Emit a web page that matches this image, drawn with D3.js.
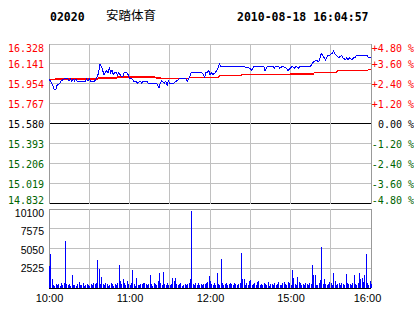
<!DOCTYPE html>
<html>
<head>
<meta charset="utf-8">
<script src="https://cdn.jsdelivr.net/npm/d3@7"></script>
<style>
  body { margin: 0; background: #fff; }
  svg { display: block; }
</style>
</head>
<body>
<script>
  // Stock info
  const code = '02020';
  const stockName = '安踏体育';
  const stamp = '2010-08-18 16:04:57';

  // tick labels
  const priceTicks = [16.328, 16.141, 15.954, 15.767, 15.580, 15.393, 15.206, 15.019, 14.832];
  const pctTicks = ['+4.80 %', '+3.60 %', '+2.40 %', '+1.20 %', '0.00 %', '-1.20 %', '-2.40 %', '-3.60 %', '-4.80 %'];
  const volTicks = [10100, 7575, 5050, 2525];
  const gridMinutes = [0, 30, 60, 90, 120, 150, 180, 210, 240];
  const timeMinutes = [0, 60, 120, 180, 240];
  const timeLabels = ['10:00', '11:00', '12:00', '15:00', '16:00'];
  const prevClose = 15.580;

  // price line (minute index from 10:00, price)
  const priceMinute = [0,2,4,5,6,8,9,11,14,15,16,17,18,19,20,21,23,27,28,29,30,31,34,35,36,37,38,39,40,41,43,44,45,46,47,48,49,50,51,52,53,54,55,56,58,59,60,62,63,65,66,68,69,70,73,74,80,82,83,84,86,87,88,89,90,93,95,97,102,103,104,105,106,114,115,116,117,118,119,120,121,122,124,125,126,127,128,144,150,151,152,153,160,161,162,163,167,168,169,171,172,174,177,178,180,181,183,184,186,187,195,196,197,198,199,201,202,203,204,206,207,208,209,211,212,213,214,216,218,219,221,222,223,224,226,227,228,229,237,238,240];
  const priceValue = [16.00,15.96,15.90,15.90,15.94,15.96,15.98,16.00,16.00,15.98,16.00,15.98,16.00,15.98,16.00,15.98,15.98,15.98,16.00,15.98,16.00,15.98,15.98,16.00,16.02,16.06,16.14,16.12,16.08,16.04,16.08,16.06,16.10,16.06,16.08,16.04,16.06,16.06,16.04,16.06,16.04,16.02,16.02,16.06,16.06,16.04,16.00,16.00,15.98,15.98,15.96,15.98,15.96,15.98,15.98,15.96,15.96,15.92,15.96,15.98,15.96,15.98,15.94,15.98,15.96,15.96,15.98,16.00,16.00,15.98,16.00,16.02,16.06,16.06,16.04,16.02,16.06,16.06,16.08,16.04,16.06,16.04,16.06,16.08,16.10,16.14,16.12,16.12,16.10,16.08,16.10,16.12,16.12,16.08,16.10,16.12,16.12,16.10,16.12,16.12,16.10,16.12,16.10,16.08,16.10,16.12,16.10,16.12,16.10,16.12,16.12,16.14,16.16,16.16,16.18,16.16,16.20,16.24,16.22,16.18,16.20,16.22,16.22,16.24,16.26,16.24,16.22,16.20,16.22,16.20,16.18,16.20,16.18,16.20,16.18,16.20,16.20,16.22,16.22,16.20,16.20];

  // average price line
  const avgMinute = [0,8,36,37,50,51,79,80,104,105,126,127,143,144,179,180,197,198,214,215,237,238,240];
  const avgValue = [15.996,16.000,16.000,16.008,16.008,16.018,16.018,16.008,16.005,16.015,16.015,16.030,16.030,16.040,16.040,16.048,16.048,16.062,16.062,16.077,16.077,16.086,16.086];

  // volume per minute
  const volume = [
    2800,4350,1150,380,260,450,320,520,300,640,
    410,700,6050,560,380,520,300,1600,420,350,
    300,520,760,380,440,680,300,420,560,350,
    280,470,390,640,550,700,3600,2430,540,1400,
    450,330,620,500,280,430,650,520,310,470,
    380,700,2950,900,560,1150,680,430,900,520,
    380,640,2300,450,300,1300,420,330,560,480,
    650,640,480,370,520,1600,450,300,700,520,
    400,860,1920,640,420,2050,560,380,700,430,
    420,560,1250,900,1250,520,360,480,640,300,
    410,520,380,560,700,1100,9900,540,420,640,
    380,600,420,520,360,560,470,680,820,1550,
    850,520,400,660,440,1880,560,400,3700,680,
    420,560,640,380,520,700,460,400,620,560,
    380,520,640,4480,1150,1150,430,620,380,950,
    1000,420,560,640,360,720,880,440,520,380,
    660,480,360,780,300,460,520,380,600,430,
    560,720,440,380,620,740,500,360,820,600,
    440,2300,1300,520,380,1400,820,640,420,560,
    380,600,520,440,620,480,2950,1600,1700,400,
    380,640,1000,5250,520,1150,560,380,480,820,
    620,440,1920,900,420,560,640,440,700,520,
    420,1800,640,480,560,420,600,1660,540,420,
    640,1920,1100,1300,800,1660,4350,700,420,900,
    560
  ];

  const W = 414, H = 314;
  const left = 49, right = 371;
  const red = '#ff0000', green = '#006400', grid = '#c0c0c0', blue = '#0000ff';
  const mono = '"DejaVu Sans Mono", monospace';
  const sans = '"Liberation Sans", Arial, sans-serif';

  const svg = d3.select('body').append('svg')
    .attr('width', W).attr('height', H)
    .attr('shape-rendering', 'crispEdges');

  const x = d3.scaleLinear().domain([0, 240]).range([left, right]);
  const yP = d3.scaleLinear().domain([14.832, 16.328]).range([203.5, 44]);
  const yV = d3.scaleLinear().domain([0, 10100]).range([288, 209]);

  // Header
  svg.append('text').attr('x', 50).attr('y', 21)
    .style('font', 'bold 11.5px ' + mono).text(code);
  svg.append('text').attr('x', 106).attr('y', 20)
    .style('font', '12.5px "Noto Sans CJK SC", sans-serif').text(stockName);
  svg.append('text').attr('x', 237).attr('y', 21)
    .style('font', 'bold 11.5px ' + mono).text(stamp);

  const colorOf = (v) => v > prevClose + 1e-6 ? red : (v < prevClose - 1e-6 ? green : '#000');

  // price grid
  const gP = svg.append('g');
  gP.selectAll('line.h').data(priceTicks).enter().append('line')
    .attr('x1', left).attr('x2', right)
    .attr('y1', d => yP(d)).attr('y2', d => yP(d))
    .attr('stroke', (d, i) => (d === prevClose || i === priceTicks.length - 1) ? '#000' : grid);
  gP.selectAll('line.v').data(gridMinutes).enter().append('line')
    .attr('x1', d => x(d)).attr('x2', d => x(d))
    .attr('y1', 44).attr('y2', 203.5)
    .attr('stroke', (d, i) => (i === 0 || i === gridMinutes.length - 1) ? '#999' : grid);

  // left price labels
  const labelDy = (i, n) => i === 0 ? 7.5 : (i === n - 1 ? 0 : 4.5);
  gP.selectAll('text.p').data(priceTicks).enter().append('text')
    .attr('x', 44).attr('y', (d, i) => yP(d) + labelDy(i, priceTicks.length))
    .attr('text-anchor', 'end')
    .style('font', '10px ' + mono)
    .attr('fill', d => colorOf(d))
    .text(d => d3.format('.3f')(d));

  // right percentage labels
  gP.selectAll('text.r').data(pctTicks).enter().append('text')
    .attr('x', 414).attr('y', (d, i) => yP(priceTicks[i]) + labelDy(i, pctTicks.length))
    .attr('text-anchor', 'end')
    .style('font', '10px ' + mono)
    .attr('fill', (d, i) => colorOf(priceTicks[i]))
    .text(d => d);

  // lines
  const line = d3.line().x(d => x(d[0])).y(d => yP(d[1]));
  svg.append('path')
    .datum(avgMinute.map((m, i) => [m, avgValue[i]]))
    .attr('d', line).attr('fill', 'none').attr('stroke', red).attr('stroke-width', 1.3);
  svg.append('path')
    .datum(priceMinute.map((m, i) => [m, priceValue[i]]))
    .attr('d', line).attr('fill', 'none').attr('stroke', blue).attr('stroke-width', 1);

  // volume grid
  const gV = svg.append('g');
  gV.selectAll('line.h').data(volTicks).enter().append('line')
    .attr('x1', left).attr('x2', right)
    .attr('y1', d => yV(d)).attr('y2', d => yV(d))
    .attr('stroke', (d, i) => i === 0 ? '#999' : grid);
  gV.selectAll('line.v').data(gridMinutes).enter().append('line')
    .attr('x1', d => x(d)).attr('x2', d => x(d))
    .attr('y1', 209).attr('y2', 288)
    .attr('stroke', (d, i) => (i === 0 || i === gridMinutes.length - 1) ? '#999' : grid);
  gV.selectAll('text').data(volTicks).enter().append('text')
    .attr('x', 44).attr('y', (d, i) => yV(d) + 7.5 - i * 1.2)
    .attr('text-anchor', 'end')
    .style('font', '10.5px ' + sans)
    .attr('fill', '#000')
    .text(d => d);

  // volume bars
  svg.append('g').selectAll('rect').data(volume).enter().append('rect')
    .attr('x', (d, i) => Math.round(x(i)))
    .attr('width', 1)
    .attr('y', d => yV(d))
    .attr('height', d => yV(0) - yV(d))
    .attr('fill', blue);

  svg.append('line').attr('x1', left).attr('x2', right)
    .attr('y1', yV(0)).attr('y2', yV(0)).attr('stroke', '#000');

  // time axis
  const xAxis = d3.axisBottom(x).tickValues(timeMinutes)
    .tickSize(0).tickPadding(0)
    .tickFormat((d, i) => timeLabels[i]);
  const gx = svg.append('g').attr('transform', 'translate(0,294)').call(xAxis);
  gx.select('.domain').remove();
  gx.selectAll('text')
    .attr('dy', 0).attr('y', 8)
    .attr('dx', (d, i) => i === timeLabels.length - 1 ? -4 : 0)
    .attr('fill', '#000')
    .style('font', '11px ' + sans);
</script>
</body>
</html>
